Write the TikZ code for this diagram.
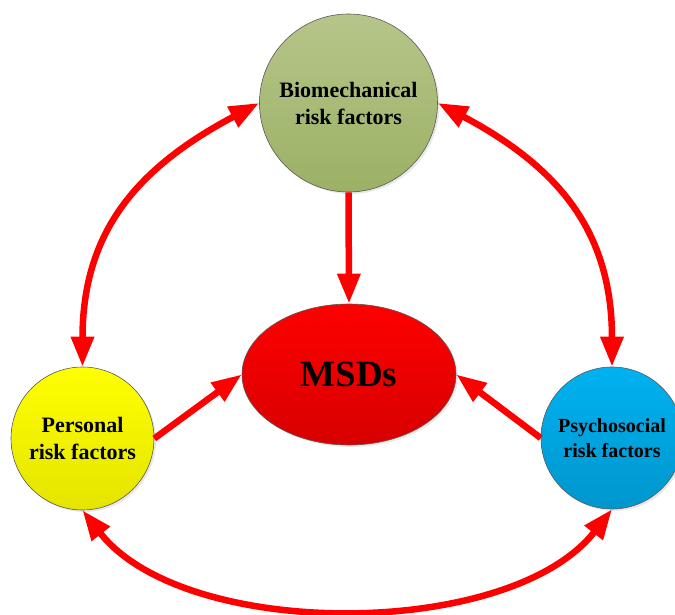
\documentclass[tikz,border=0pt]{standalone}
\usepackage{fontspec}
\setmainfont{Liberation Serif}
\usetikzlibrary{arrows.meta,shapes.geometric,shadows}
\tikzset{
  bubble/.style={circle, inner sep=0pt, align=center, draw=black!65, line width=0.6pt,
    drop shadow={opacity=0.18, shadow xshift=2pt, shadow yshift=-2pt}},
  lbl/.style={font=\fontsize{22}{27}\selectfont\bfseries},
  conn/.style={draw=red, line width=6.5pt, -{Triangle[length=30pt,width=22pt]}},
  both/.style={draw=red, line width=6.5pt, {Triangle[length=30pt,width=22pt]}-{Triangle[length=30pt,width=22pt]}}
}
\begin{document}
\begin{tikzpicture}[x=1pt,y=1pt]
\useasboundingbox (0,0) rectangle (675,614);
\node[bubble, lbl, minimum size=178pt, top color={rgb,255:red,182;green,197;blue,138}, bottom color={rgb,255:red,155;green,177;blue,101}] (bio) at (348.5,511) {Biomechanical\\risk factors};
\node[bubble, ellipse, minimum width=214pt, minimum height=141pt, top color={rgb,255:red,255;green,0;blue,0}, bottom color={rgb,255:red,215;green,0;blue,0}, font=\fontsize{37}{40}\selectfont\bfseries] (msd) at (349,239.5) {MSDs};
\node[bubble, lbl, minimum size=143pt, top color={rgb,255:red,255;green,255;blue,0}, bottom color={rgb,255:red,228;green,228;blue,0}] (pers) at (82.5,175.5) {Personal\\risk factors};
\node[bubble, minimum size=142pt, top color={rgb,255:red,0;green,178;blue,240}, bottom color={rgb,255:red,0;green,150;blue,205}, font=\fontsize{20}{24.5}\selectfont\bfseries] (psy) at (612,176) {Psychosocial\\risk factors};
\draw[conn] (bio.south) -- (msd.north);
\draw[conn] (pers.east) -- (msd.west);
\draw[conn] (psy.west) -- (msd.east);
\draw[both] (bio.west) to[out=208, in=90, looseness=1.1] (pers.north);
\draw[both] (bio.east) to[out=-28, in=90, looseness=1.1] (psy.north);
\draw[both] (pers.south) to[out=-52, in=-128, looseness=0.8] (psy.south);
\end{tikzpicture}
\end{document}
